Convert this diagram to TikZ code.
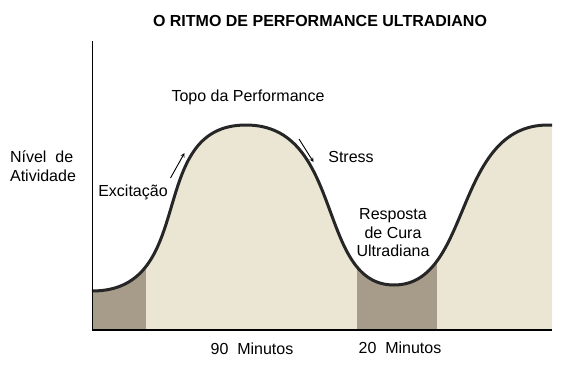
\documentclass[tikz,border=0pt]{standalone}
\usepackage{fontspec}
\setmainfont{Liberation Sans}
\usepackage{tikz}

\definecolor{areia}{RGB}{235,230,211}
\definecolor{sombra}{RGB}{166,156,137}

\newcommand{\curvaritmo}{(92,291) .. controls (199.5,291) and (143.8,125) .. (246,125)
  .. controls (345,125) and (316,285) .. (394,285)
  .. controls (472.3,285) and (452.9,125) .. (548,125) -- (552,125)}

\tikzset{
  rotulo/.style={font=\fontsize{16}{18.5}\selectfont, inner sep=0pt},
  seta/.style={->, >=stealth, line width=0.9pt, shorten >=0pt}
}

\begin{document}
\begin{tikzpicture}[x=1pt, y=-1pt]
        \useasboundingbox (0,0) rectangle (563,368);
        % area sob a curva
        \fill[areia] \curvaritmo -- (552,330) -- (92,330) -- cycle;
        \begin{scope}
            \clip \curvaritmo -- (552,330) -- (92,330) -- cycle;
            \fill[sombra] (92,100) rectangle (146,330);
            \fill[sombra] (357,100) rectangle (437,330);
        \end{scope}
        \draw[line width=3pt, black!85] \curvaritmo;
        % eixos
        \draw[line width=1.8pt] (92.5,41) -- (92.5,330) -- (552,330);
        % textos
        \node[rotulo, font=\bfseries\fontsize{16}{18.5}\selectfont] at (320,21) (titulo) {O RITMO DE PERFORMANCE ULTRADIANO};
        \node[rotulo] at (248,97) (topo) {Topo da Performance};
        \node[rotulo, align=left] at (43,166) (nivel) {Nível\ \ de\\Atividade};
        \node[rotulo] at (133,192) (excit) {Excitação};
        \node[rotulo] at (351,157) (stress) {Stress};
        \node[rotulo, align=center] at (393,233) (cura) {Resposta\\de Cura\\Ultradiana};
        \node[rotulo] at (252,349) (min90) {90\ \ Minutos};
        \node[rotulo] at (400,348) (min20) {20\ \ Minutos};
        % setas
        \coordinate (e1) at (170.5,178);
        \coordinate (e2) at (184.5,153);
        \coordinate (s1) at (299,139);
        \coordinate (s2) at (313.5,162);
        \draw[seta] (e1) -- (e2);
        \draw[seta] (s1) -- (s2);
    \end{tikzpicture}
\end{document}
